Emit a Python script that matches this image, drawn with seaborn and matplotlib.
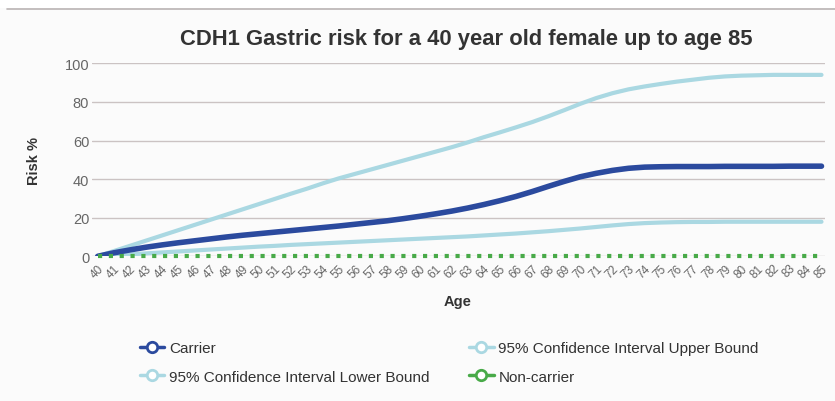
import numpy as np
import pandas as pd
import matplotlib
matplotlib.use("Agg")
import matplotlib.pyplot as plt
from matplotlib.lines import Line2D
from matplotlib.patches import Rectangle
import seaborn as sns

ages = list(range(40, 86))

carrier = [0.0, 1.8, 3.3, 4.7, 5.9, 7.0, 8.0, 9.0, 10.0, 10.9,
           11.7, 12.5, 13.3, 14.1, 14.9, 15.7, 16.6, 17.5, 18.4, 19.5,
           20.7, 22.0, 23.4, 25.0, 26.8, 28.8, 31.0, 33.5, 36.2, 38.8,
           41.2, 43.0, 44.5, 45.6, 46.2, 46.4, 46.5, 46.5, 46.5, 46.6,
           46.6, 46.6, 46.6, 46.7, 46.7, 46.7]

upper = [0.0, 2.7, 5.4, 8.1, 10.8, 13.5, 16.2, 18.9, 21.6, 24.3,
         27.0, 29.7, 32.4, 35.0, 37.8, 40.4, 42.7, 45.0, 47.3, 49.6,
         51.9, 54.2, 56.5, 59.0, 61.7, 64.2, 66.8, 69.5, 72.5, 75.7,
         79.0, 82.0, 84.5, 86.5, 88.0, 89.3, 90.5, 91.5, 92.5, 93.2,
         93.6, 93.8, 94.0, 94.0, 94.0, 94.0]

lower = [0.0, 0.5, 1.0, 1.5, 2.0, 2.5, 3.0, 3.5, 4.0, 4.5,
         5.0, 5.4, 5.9, 6.3, 6.7, 7.1, 7.5, 7.9, 8.3, 8.7,
         9.1, 9.5, 9.9, 10.3, 10.8, 11.3, 11.8, 12.4, 13.0, 13.7,
         14.4, 15.2, 16.0, 16.7, 17.2, 17.5, 17.7, 17.8, 17.8, 17.9,
         17.9, 17.9, 17.9, 17.9, 17.9, 17.9]

non_carrier = [0.0] * len(ages)

yticks = [0, 20, 40, 60, 80, 100]

title = "CDH1 Gastric risk for a 40 year old female up to age 85"

c_carrier = "#2b4a9e"
c_ci = "#aad8e2"
c_non = "#48aa48"
bg = "#fbfbfb"

sns.set_style("white")
plt.rcParams["font.family"] = ["Liberation Sans", "DejaVu Sans"]

df = pd.DataFrame({
    "Age": ages,
    "Carrier": carrier,
    "Upper": upper,
    "Lower": lower,
    "Non-carrier": non_carrier,
})

fig = plt.figure(figsize=(8.35, 4.02), dpi=100, facecolor=bg)
W, H = 835, 402

# white strip and divider line at the very top
fig.patches.append(Rectangle((0, 1 - 9 / H), 1, 9 / H, transform=fig.transFigure,
                             facecolor="white", edgecolor="none", zorder=0))
fig.add_artist(Line2D([7 / W, 1], [1 - 9.5 / H, 1 - 9.5 / H], transform=fig.transFigure,
                      color="#b9b4b4", lw=1.2))

ax = fig.add_axes([92 / W, 1 - 257.3 / H, (825 - 92) / W, (257.3 - 64.3) / H])
ax.set_facecolor(bg)

sns.lineplot(data=df, x="Age", y="Upper", ax=ax, color=c_ci, lw=3.0,
             solid_capstyle="round", zorder=3)
sns.lineplot(data=df, x="Age", y="Lower", ax=ax, color=c_ci, lw=3.0,
             solid_capstyle="round", zorder=3)
sns.lineplot(data=df, x="Age", y="Carrier", ax=ax, color=c_carrier, lw=4.0,
             solid_capstyle="round", zorder=4)
sns.lineplot(data=df, x="Age", y="Non-carrier", ax=ax, color=c_non, lw=3.0,
             dashes=(1, 1.6), zorder=5, clip_on=False)

px_per_year = (821.5 - 97.7) / 45
ax.set_xlim(40 - (97.7 - 92) / px_per_year, 85 + (825 - 821.5) / px_per_year)
ax.set_ylim(0, 100)
ax.set_yticks(yticks)
ax.set_xticks(ages)
ax.set_xticklabels([str(a) for a in ages], rotation=45, ha="right",
                   rotation_mode="anchor", fontsize=8.5, color="#666666")
ax.set_yticklabels([str(v) for v in yticks], fontsize=10.5, color="#666666")
ax.tick_params(axis="both", length=0)
ax.tick_params(axis="x", pad=4)
ax.tick_params(axis="y", pad=2)

ax.grid(axis="y", color="#cbc3c3", lw=1.0)
ax.grid(axis="x", visible=False)
ax.set_axisbelow(True)
for s in ax.spines.values():
    s.set_visible(False)

ax.set_xlabel("")
ax.set_ylabel("")
fig.text(458 / W, 1 - 302 / H, "Age", ha="center", va="center",
         fontsize=10.5, fontweight="bold", color="#333333")
fig.text(34 / W, 1 - 161 / H, "Risk %", ha="center", va="center", rotation=90,
         fontsize=10.5, fontweight="bold", color="#333333")
fig.text(466 / W, 1 - 40 / H, title, ha="center", va="center",
         fontsize=15.8, fontweight="bold", color="#333333")

def handle(color):
    return Line2D([], [], color=color, lw=2.5, marker="o", markersize=7.5,
                  markerfacecolor="white", markeredgecolor=color, markeredgewidth=2)

handles = [handle(c_carrier), handle(c_ci), handle(c_ci), handle(c_non)]
labels = ["Carrier", "95% Confidence Interval Lower Bound",
          "95% Confidence Interval Upper Bound", "Non-carrier"]
fig.legend(handles, labels, ncol=2, loc="center left",
           bbox_to_anchor=(140 / W, 1 - 363.5 / H), frameon=False,
           fontsize=11, labelcolor="#333333", handlelength=1.6,
           handletextpad=0.3, columnspacing=2.6, labelspacing=0.95,
           borderpad=0, borderaxespad=0)

fig.savefig("out.png", dpi=100, facecolor=bg)
